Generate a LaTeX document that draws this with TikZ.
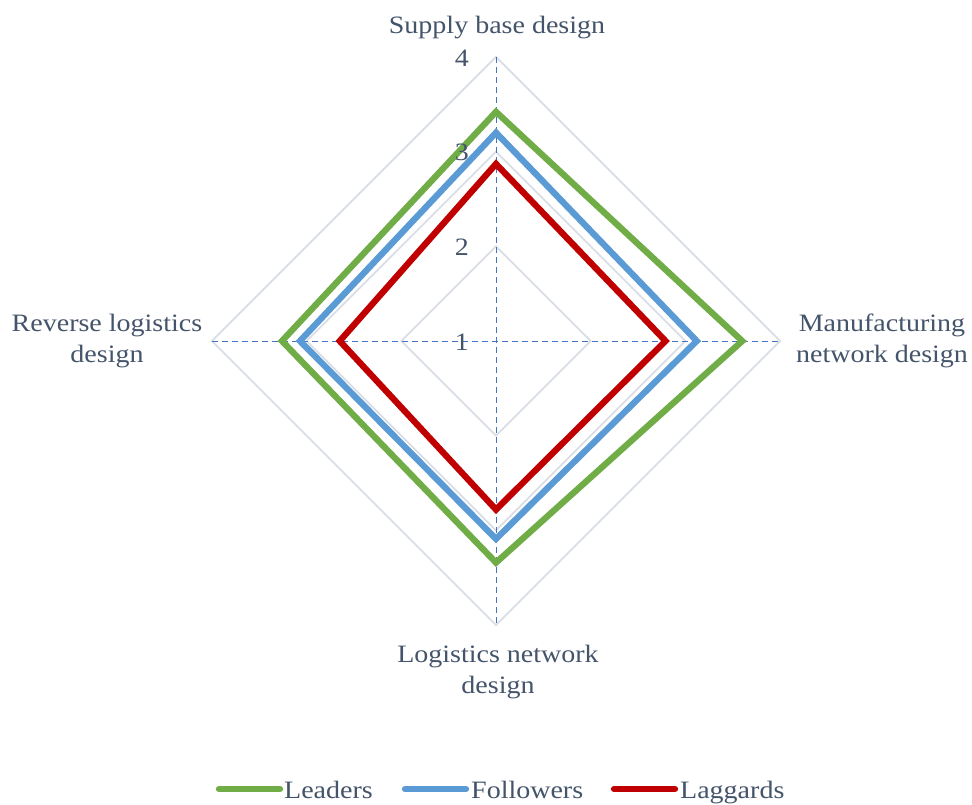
\documentclass[tikz,border=0pt]{standalone}
\usepackage{fontspec}
\setmainfont[FakeStretch=1.12]{Liberation Serif}
\definecolor{txt}{HTML}{44546A}
\definecolor{gridc}{HTML}{D9DDE5}
\definecolor{axisc}{HTML}{4472C4}
\definecolor{lead}{HTML}{70AD47}
\definecolor{foll}{HTML}{5B9BD5}
\definecolor{lagg}{HTML}{C00000}
\tikzset{
  lbl/.style={text=txt,font=\fontsize{25}{31}\selectfont,inner sep=0pt},
  gridline/.style={draw=gridc,line width=1.8pt,line join=miter},
  axisline/.style={draw=axisc,line width=1pt,dash pattern=on 6pt off 4pt},
  serie/.style={line width=6.3pt,line join=miter},
  legline/.style={line width=6.3pt,line cap=round}
}
\newcommand{\radarseries}[5]{%
  \coordinate (#1t) at (496,{341-(#2-1)*94.7});
  \coordinate (#1r) at ({496+(#3-1)*94.7},341);
  \coordinate (#1b) at (496,{341+(#4-1)*94.7});
  \coordinate (#1l) at ({496-(#5-1)*94.7},341);
  \draw[serie,draw=#1] (#1t) -- (#1r) -- (#1b) -- (#1l) -- cycle;
}
\begin{document}
\begin{tikzpicture}[x=1pt,y=-1pt]
\useasboundingbox (0,0) rectangle (972,804);
\fill[white] (0,0) rectangle (972,804);
\coordinate (C) at (496,341);
% grid diamonds
\foreach \k in {1,2,3}{
  \draw[gridline] (496,{341-\k*94.7}) -- ({496+\k*94.7},341) -- (496,{341+\k*94.7}) -- ({496-\k*94.7},341) -- cycle;
}
% axes
\coordinate (axT) at (496,57);
\coordinate (axB) at (496,625);
\coordinate (axL) at (212,341);
\coordinate (axR) at (780,341);
\draw[axisline] (axT) -- (axB);
\draw[axisline] (axL) -- (axR);
% series
\radarseries{lead}{3.42}{3.60}{3.34}{3.26}
\radarseries{foll}{3.20}{3.12}{3.09}{3.07}
\radarseries{lagg}{2.87}{2.79}{2.78}{2.65}
% tick labels
\node[lbl,anchor=east] (t4) at (469,58) {4};
\node[lbl,anchor=east] (t3) at (469,152) {3};
\node[lbl,anchor=east] (t2) at (469,247) {2};
\node[lbl,anchor=east] (t1) at (469,342) {1};
% axis labels
\node[lbl,anchor=base] (supply) at (497,33) {Supply base design};
\node[lbl,anchor=base] (manu1) at (882,331) {Manufacturing};
\node[lbl,anchor=base] (manu2) at (882,362) {network design};
\node[lbl,anchor=base] (rev1) at (107,331) {Reverse logistics};
\node[lbl,anchor=base] (rev2) at (107,362) {design};
\node[lbl,anchor=base] (log1) at (498,662) {Logistics network};
\node[lbl,anchor=base] (log2) at (498,693) {design};
% legend
\coordinate (lg1a) at (219,789); \coordinate (lg1b) at (280,789);
\coordinate (lg2a) at (405,789); \coordinate (lg2b) at (466,789);
\coordinate (lg3a) at (614,789); \coordinate (lg3b) at (675,789);
\draw[legline,draw=lead] (lg1a) -- (lg1b);
\draw[legline,draw=foll] (lg2a) -- (lg2b);
\draw[legline,draw=lagg] (lg3a) -- (lg3b);
\node[lbl,anchor=base west] (legL) at (284,798) {Leaders};
\node[lbl,anchor=base west] (legF) at (471,798) {Followers};
\node[lbl,anchor=base west] (legG) at (680,798) {Laggards};
\end{tikzpicture}
\end{document}
